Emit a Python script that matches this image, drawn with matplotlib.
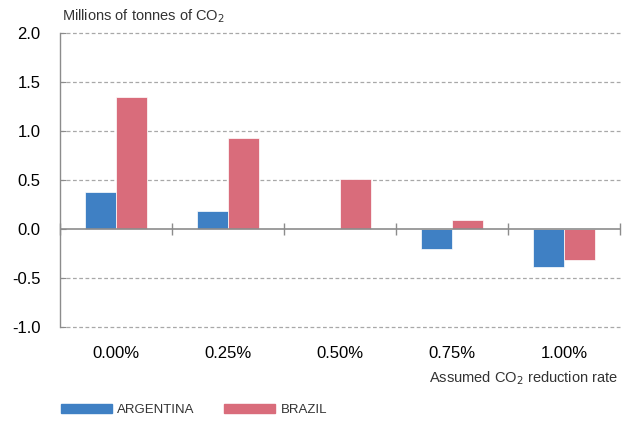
import numpy as np
import matplotlib.pyplot as plt
from matplotlib.patches import Patch

rates = ["0.00%", "0.25%", "0.50%", "0.75%", "1.00%"]
argentina = [0.38, 0.18, 0.0, -0.20, -0.39]
brazil = [1.35, 0.93, 0.51, 0.09, -0.32]
yticks = [-1.0, -0.5, 0.0, 0.5, 1.0, 1.5, 2.0]

blue = "#3f80c4"
pink = "#d96c7b"
grey = "#8c8c8c"

plt.rcParams['font.family'] = ['Liberation Sans', 'DejaVu Sans']
plt.rcParams['axes.unicode_minus'] = False

fig = plt.figure(figsize=(6.25, 4.21), dpi=100)
ax = fig.add_axes([0.096, 0.2233, 0.896, 0.6983])

x = np.arange(len(rates))
w = 0.28
ax.bar(x - w/2, argentina, w, color=blue, edgecolor="white", linewidth=0.5, zorder=3)
ax.bar(x + w/2, brazil, w, color=pink, edgecolor="white", linewidth=0.5, zorder=3)

ax.set_xlim(-0.5, len(rates) - 0.5)
ax.set_ylim(-1.0, 2.0)
ax.set_yticks(yticks)
ax.set_yticklabels([f"{v:.1f}" for v in yticks], fontsize=12)
for v in yticks:
    if v != 0:
        ax.axhline(v, color="#a8a8a8", lw=0.9, ls=(0, (3, 2)), zorder=1, clip_on=False)
ax.axhline(0, color=grey, lw=1.2, zorder=4)

ax.set_xticks(x)
ax.set_xticklabels(rates, fontsize=12)
ax.tick_params(axis="x", length=0, pad=14)
ax.tick_params(axis="y", length=4, direction="in", color=grey, pad=14)
for s in ["top", "right", "bottom"]:
    ax.spines[s].set_visible(False)
ax.spines["left"].set_color(grey)
ax.spines["left"].set_linewidth(1.0)

# group separators on the zero line
sec = ax.secondary_xaxis(1/3)
sec.set_xticks(np.arange(len(rates) + 1) - 0.5)
sec.set_xticklabels([])
sec.tick_params(length=8, direction="inout", color=grey, width=1)
sec.spines["bottom"].set_visible(False)
sec.spines["top"].set_visible(False)

fig.text(0.099, 0.952, "Millions of tonnes of CO$_2$", fontsize=10.5, color="#333333")
fig.text(0.989, 0.102, "Assumed CO$_2$ reduction rate", fontsize=10.5,
         color="#333333", ha="right", va="center")

handles = [Patch(color=blue, label="ARGENTINA"), Patch(color=pink, label="BRAZIL")]
leg = fig.legend(handles=handles, loc="center left", bbox_to_anchor=(0.078, 0.026), ncol=2,
                 frameon=False, handlelength=3.9, handleheight=0.6,
                 columnspacing=2.2, handletextpad=0.4,
                 prop={"family": "Liberation Sans", "size": 9.5})
for t in leg.get_texts():
    t.set_color("#333333")

fig.savefig("out.png", dpi=100)
